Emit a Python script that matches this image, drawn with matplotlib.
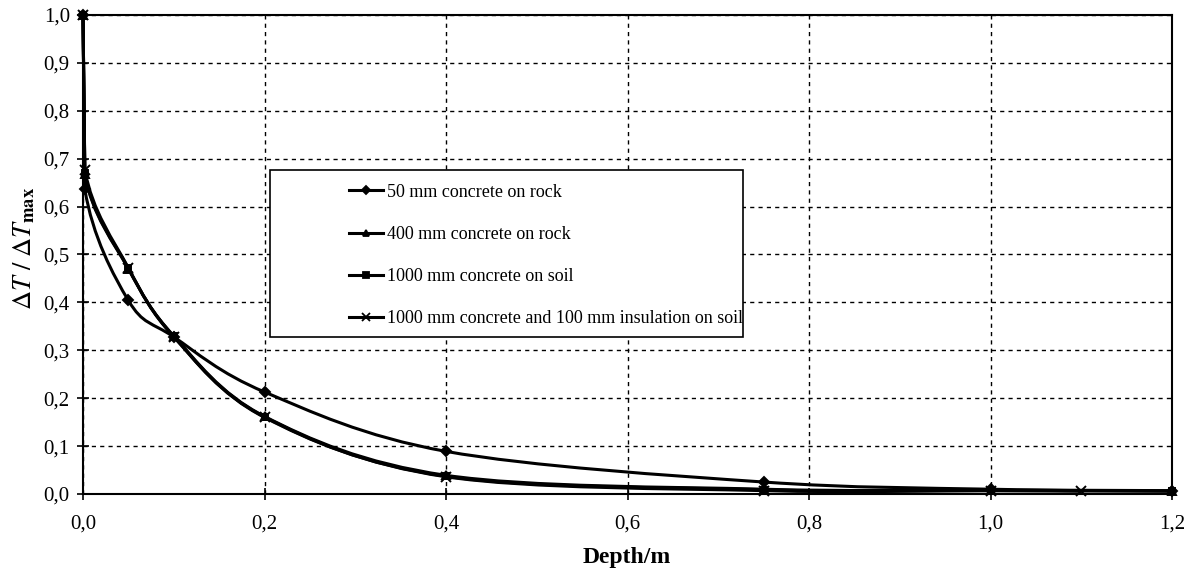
import matplotlib
matplotlib.use("Agg")
import matplotlib.pyplot as plt
from matplotlib.path import Path
from matplotlib.patches import PathPatch, Rectangle
from matplotlib.lines import Line2D
from matplotlib.ticker import FuncFormatter, MultipleLocator

plt.rcParams['font.family'] = ['Liberation Serif', 'DejaVu Serif']
plt.rcParams['mathtext.fontset'] = 'stix'

# Depth profiles of relative temperature amplitude
depth_50_rock = [0.0, 0.002, 0.05, 0.1, 0.2, 0.4, 0.75, 1.0, 1.2]
dt_50_rock = [1.0, 0.637, 0.404, 0.328, 0.213, 0.089, 0.025, 0.010, 0.007]

depth_400_rock = [0.0, 0.002, 0.05, 0.1, 0.2, 0.4, 0.75, 1.0, 1.2]
dt_400_rock = [1.0, 0.668, 0.470, 0.330, 0.162, 0.039, 0.010, 0.008, 0.006]

depth_1000_soil = [0.0, 0.002, 0.05, 0.1, 0.2, 0.4, 0.75, 1.0, 1.2]
dt_1000_soil = [1.0, 0.670, 0.471, 0.329, 0.160, 0.037, 0.009, 0.007, 0.006]

depth_1000_ins = [0.0, 0.002, 0.05, 0.1, 0.2, 0.4, 0.75, 1.0, 1.1]
dt_1000_ins = [1.0, 0.677, 0.472, 0.328, 0.161, 0.036, 0.007, 0.007, 0.006]

labels = ['50 mm concrete on rock', '400 mm concrete on rock',
          '1000 mm concrete on soil', '1000 mm concrete and 100 mm insulation on soil']
markers = ['D', '^', 's', 'x']
msizes = [5, 6, 5, 7]

series = [(depth_50_rock, dt_50_rock), (depth_400_rock, dt_400_rock),
          (depth_1000_soil, dt_1000_soil), (depth_1000_ins, dt_1000_ins)]


def smooth_path(xs, ys):
    # cubic bezier through the points, control points kept inside each x-interval
    pts = list(zip(xs, ys))
    n = len(pts)
    verts = [pts[0]]
    codes = [Path.MOVETO]
    for i in range(n - 1):
        p0 = pts[i - 1] if i > 0 else pts[i]
        p1 = pts[i]
        p2 = pts[i + 1]
        p3 = pts[i + 2] if i + 2 < n else pts[i + 1]
        lo, hi = p1[0], p2[0]
        c1x = min(max(p1[0] + (p2[0] - p0[0]) / 6, lo), hi)
        c2x = min(max(p2[0] - (p3[0] - p1[0]) / 6, lo), hi)
        c1 = (c1x, p1[1] + (p2[1] - p0[1]) / 6)
        c2 = (c2x, p2[1] - (p3[1] - p1[1]) / 6)
        if hi - lo < 0.01:
            verts.append(p2)
            codes.append(Path.LINETO)
        else:
            verts += [c1, c2, p2]
            codes += [Path.CURVE4] * 3
    return Path(verts, codes)


fig = plt.figure(figsize=(11.87, 5.75), dpi=100)
ax = fig.add_axes([83 / 1187, 81 / 575, 1089 / 1187, 479 / 575])

for (xs, ys), m, ms in zip(series, markers, msizes):
    ax.add_patch(PathPatch(smooth_path(xs, ys), fill=False, edgecolor='black',
                           linewidth=2.2, zorder=3, clip_on=False))
    ax.plot(xs, ys, linestyle='none', marker=m, markersize=ms, color='black',
            markeredgewidth=1.4, zorder=4, clip_on=False)

ax.set_xlim(0, 1.2)
ax.set_ylim(0, 1.0)
ax.xaxis.set_major_locator(MultipleLocator(0.2))
ax.yaxis.set_major_locator(MultipleLocator(0.1))
comma = FuncFormatter(lambda v, p: f'{v:.1f}'.replace('.', ','))
ax.xaxis.set_major_formatter(comma)
ax.yaxis.set_major_formatter(comma)
ax.tick_params(direction='inout', length=9, width=1.2, labelsize=15, colors='black')
ax.tick_params(axis='x', pad=10)
ax.tick_params(axis='y', pad=5)

ax.grid(True, color='black', linestyle=(0, (3, 3)), linewidth=1.0)
for s in ax.spines.values():
    s.set_linewidth(1.5)
    s.set_zorder(5)

# legend box
ax.add_patch(Rectangle((0.172, 0.328), 0.434, 0.348, transform=ax.transAxes,
                       facecolor='white', edgecolor='black', linewidth=1.2, zorder=6))
handles = [Line2D([], [], color='black', linewidth=2.2, marker=m, markersize=ms - 1,
                  markeredgewidth=1.3) for m, ms in zip(markers, msizes)]
leg = ax.legend(handles, labels, loc='upper left', bbox_to_anchor=(0.244, 0.648),
                frameon=False, fontsize=13, handlelength=1.9, handletextpad=0.2,
                labelspacing=1.4, borderpad=0, borderaxespad=0)
leg.set_zorder(7)

fig.text(24 / 1187, 1 - 248 / 575, r'$\Delta T\ /\ \Delta T_{\mathbf{max}}$',
         rotation=90, ha='center', va='center', fontsize=19)
fig.text(627 / 1187, 1 - 557 / 575, 'Depth/m', ha='center', va='center',
         fontsize=17, fontweight='bold')

fig.savefig('out.png', dpi=100)
